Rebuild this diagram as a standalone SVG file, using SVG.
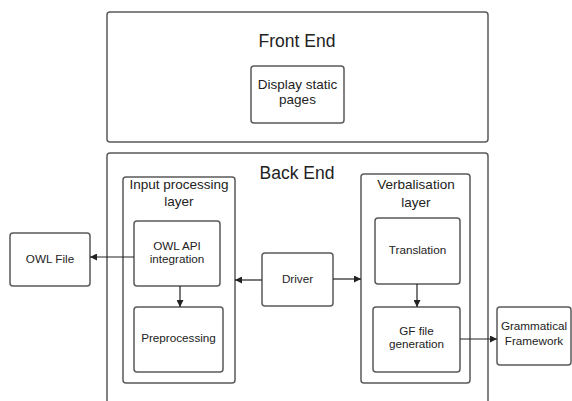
<svg xmlns="http://www.w3.org/2000/svg" width="572" height="401" viewBox="0 0 572 401">
<defs>
<style>
.box{fill:#fff;stroke:#5a5a5a;stroke-width:1.5}
.t{font-family:"Liberation Sans",Arial,sans-serif;fill:#222;text-anchor:middle}
.big{font-size:17.5px}
.mid{font-size:13.5px}
.sm{font-size:11.7px}
.c{stroke:#222;stroke-width:1.2;fill:none;marker-end:url(#ah)}
</style>
<marker id="ah" viewBox="0 0 10 10" refX="10" refY="5" markerWidth="7" markerHeight="7" markerUnits="userSpaceOnUse" orient="auto">
<path d="M0,0 L10,5 L0,10 z" fill="#222"/>
</marker>
</defs>
<rect width="572" height="401" fill="#fff"/>
<g id="front-end">
<rect class="box" x="107" y="12" width="381" height="130" rx="3"/>
<text class="t big" x="297" y="47">Front End</text>
</g>
<g id="display-static-pages">
<rect class="box" x="251" y="66" width="93" height="57" rx="3"/>
<text class="t mid" x="297.5" y="89">Display static</text>
<text class="t mid" x="297.5" y="104">pages</text>
</g>
<g id="back-end">
<rect class="box" x="107" y="153" width="381" height="260" rx="3"/>
<text class="t big" x="297" y="179">Back End</text>
</g>
<g id="input-processing-layer">
<rect class="box" x="123" y="177" width="112" height="206" rx="3"/>
<text class="t mid" x="179" y="189">Input processing</text>
<text class="t mid" x="179" y="206">layer</text>
</g>
<g id="owl-api-integration">
<rect class="box" x="134" y="221" width="86" height="65" rx="3"/>
<text class="t sm" x="177" y="250">OWL API</text>
<text class="t sm" x="177" y="263">integration</text>
</g>
<g id="preprocessing">
<rect class="box" x="134" y="307" width="89" height="65" rx="3"/>
<text class="t sm" x="178.5" y="342">Preprocessing</text>
</g>
<g id="owl-file">
<rect class="box" x="10" y="233" width="80" height="53" rx="3"/>
<text class="t sm" x="50" y="263">OWL File</text>
</g>
<g id="driver">
<rect class="box" x="262" y="253" width="71" height="53" rx="3"/>
<text class="t sm" x="297.5" y="283">Driver</text>
</g>
<g id="verbalisation-layer">
<rect class="box" x="361" y="174" width="109" height="209" rx="3"/>
<text class="t mid" x="416" y="189">Verbalisation</text>
<text class="t mid" x="416" y="207">layer</text>
</g>
<g id="translation">
<rect class="box" x="375" y="218" width="85" height="66" rx="3"/>
<text class="t sm" x="417.5" y="254">Translation</text>
</g>
<g id="gf-file-generation">
<rect class="box" x="373" y="307" width="87" height="65" rx="3"/>
<text class="t sm" x="416.5" y="335">GF file</text>
<text class="t sm" x="416.5" y="348">generation</text>
</g>
<g id="grammatical-framework">
<rect class="box" x="497" y="307" width="74" height="58" rx="3"/>
<text class="t sm" x="534" y="330">Grammatical</text>
<text class="t sm" x="534" y="345">Framework</text>
</g>
<g id="connectors">
<path class="c" d="M134,257 L90,257"/>
<path class="c" d="M180,286 L180,307"/>
<path class="c" d="M262,280 L235,280"/>
<path class="c" d="M333,279 L361,279"/>
<path class="c" d="M417,284 L417,307"/>
<path class="c" d="M460,339 L497,339"/>
</g>
</svg>
